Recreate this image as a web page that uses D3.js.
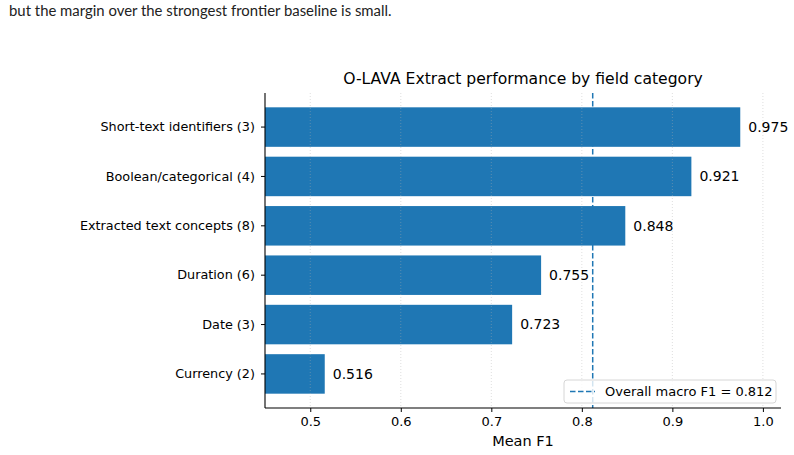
<html>
<head>
    <style>
        body { margin: 0; background: #fff; }
    </style>
    <script src="https://d3js.org/d3.v7.min.js"></script>
</head>
<body>
    <svg width=794 height=455></svg>
</body>
<script>

    // data (top to bottom)
    const categories = ["Short-text identifiers (3)", "Boolean/categorical (4)", "Extracted text concepts (8)",
                        "Duration (6)", "Date (3)", "Currency (2)"];
    const meanF1 = [0.975, 0.921, 0.848, 0.755, 0.723, 0.516];
    const xTicks = [0.5, 0.6, 0.7, 0.8, 0.9, 1.0];
    const overallF1 = 0.812;

    const svg = d3.select("svg")
        .style("font-family", "'DejaVu Sans', sans-serif");

    // caption text above the figure
    svg.append("text")
        .attr("x", 9)
        .attr("y", 16)
        .style("font-family", "Lato, 'Open Sans', sans-serif")
        .style("font-size", "14.9px")
        .attr("fill", "#222")
        .text("but the margin over the strongest frontier baseline is small.");

    // plot box (note: "top" is a window global, so use other names)
    let axLeft = 265, axRight = 781, axTop = 93, axBottom = 408;

    let x = d3.scaleLinear()
        .domain([0.45, 1.02])
        .range([axLeft, axRight]);

    let y = d3.scaleBand()
        .domain(categories)
        .range([axTop, axBottom])
        .paddingInner(0.2)
        .paddingOuter(0.29);

    // reference line (sits behind the bars)
    svg.append("line")
        .attr("x1", x(overallF1)).attr("x2", x(overallF1))
        .attr("y1", axTop).attr("y2", axBottom)
        .attr("stroke", "#1f77b4")
        .attr("stroke-width", 1.5)
        .attr("stroke-dasharray", "5.5,2.5");

    // bars
    svg.append("g")
        .selectAll("rect")
        .data(meanF1)
        .join("rect")
            .attr("x", x(0.45))
            .attr("y", (d, i) => y(categories[i]))
            .attr("width", d => x(d) - x(0.45))
            .attr("height", y.bandwidth())
            .attr("fill", "#1f77b4");

    // dotted grid, drawn faintly on top
    svg.append("g")
        .selectAll("line")
        .data(xTicks)
        .join("line")
            .attr("x1", d => x(d)).attr("x2", d => x(d))
            .attr("y1", axTop).attr("y2", axBottom)
            .attr("stroke", "#b0b0b0")
            .attr("stroke-opacity", 0.5)
            .attr("stroke-width", 0.8)
            .attr("stroke-dasharray", "1,2");

    // value labels
    svg.append("g")
        .selectAll("text")
        .data(meanF1)
        .join("text")
            .attr("x", d => x(d) + 8)
            .attr("y", (d, i) => y(categories[i]) + y.bandwidth() / 2)
            .attr("dy", "0.35em")
            .style("font-size", "14px")
            .attr("fill", "#000")
            .text(d => d3.format(".3f")(d));

    // axes
    let xAxis = svg.append("g")
        .attr("transform", `translate(0,${axBottom})`)
        .call(d3.axisBottom(x).tickValues(xTicks).tickFormat(d3.format(".1f")).tickSize(4).tickPadding(5));
    xAxis.select(".domain").attr("d", `M${axLeft},0H${axRight}`).attr("stroke-width", 1.1);
    xAxis.selectAll("text").style("font-size", "13px").style("font-family", "'DejaVu Sans', sans-serif").attr("fill", "#000");

    let yAxis = svg.append("g")
        .attr("transform", `translate(${axLeft},0)`)
        .call(d3.axisLeft(y).tickSize(4).tickPadding(6));
    yAxis.select(".domain").attr("d", `M0,${axTop}V${axBottom}`).attr("stroke-width", 1.1);
    yAxis.selectAll("text").style("font-size", "12.8px").style("font-family", "'DejaVu Sans', sans-serif").attr("fill", "#000");

    // title and axis label
    svg.append("text")
        .attr("x", (axLeft + axRight) / 2)
        .attr("y", 84)
        .attr("text-anchor", "middle")
        .style("font-size", "15.6px")
        .text("O-LAVA Extract performance by field category");

    svg.append("text")
        .attr("x", (axLeft + axRight) / 2)
        .attr("y", 446)
        .attr("text-anchor", "middle")
        .style("font-size", "14.5px")
        .text("Mean F1");

    // legend
    let legend = svg.append("g").attr("transform", "translate(564,380)");
    legend.append("rect")
        .attr("width", 212).attr("height", 23).attr("rx", 3)
        .attr("fill", "#fff").attr("fill-opacity", 0.8)
        .attr("stroke", "#d6d6d6");
    legend.append("line")
        .attr("x1", 6).attr("x2", 31).attr("y1", 11.5).attr("y2", 11.5)
        .attr("stroke", "#1f77b4").attr("stroke-width", 1.5)
        .attr("stroke-dasharray", "5.5,2.5");
    legend.append("text")
        .attr("x", 41).attr("y", 11.5).attr("dy", "0.35em")
        .style("font-size", "13px")
        .text("Overall macro F1 = " + overallF1);

</script>
</html>
